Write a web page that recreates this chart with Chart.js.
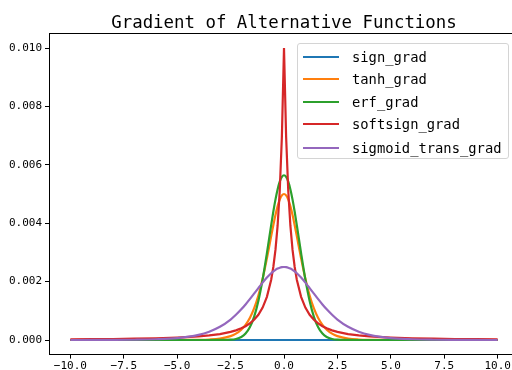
<!DOCTYPE html>
<html>
<head>
<meta charset="utf-8">
<script src="https://cdn.jsdelivr.net/npm/chart.js@4/dist/chart.umd.min.js"></script>
<style>
body { margin: 0; width: 512px; height: 370px; overflow: hidden; background: #fff; position: relative; font-family: "DejaVu Sans Mono", monospace; }
#grafica { position: absolute; left: 0; top: 0; }
#titulo { position: absolute; left: 49px; width: 470px; top: 12px; text-align: center; font-size: 17.4px; color: #000; white-space: pre; }
#leyenda { position: absolute; left: 297px; top: 43px; width: 212px; height: 116px; box-sizing: border-box; border: 1px solid #d4d4d4; border-radius: 3px; background: rgba(255,255,255,0.8); font-size: 13.8px; color: #000; }
.fila { position: absolute; left: 0; height: 20px; line-height: 20px; }
.fila .linea { position: absolute; left: 5px; top: 9px; width: 36px; height: 2px; }
.fila .texto { position: absolute; left: 54px; top: 0; white-space: pre; }
</style>
</head>
<body>
<canvas id="grafica" width="520" height="370"></canvas>
<div id="titulo">Gradient of Alternative Functions</div>
<div id="leyenda"></div>
<script>
// Valores
const xs = [-10,-9,-8,-7,-6,-5,-4,-3.5,-3,-2.5,-2.25,-2,-1.8,-1.6,-1.4,-1.2,-1,-0.8,-0.6,-0.5,-0.4,-0.3,-0.2,-0.1,
  0,
  0.1,0.2,0.3,0.4,0.5,0.6,0.8,1,1.2,1.4,1.6,1.8,2,2.25,2.5,3,3.5,4,5,6,7,8,9,10];

const nombres = ["sign_grad", "tanh_grad", "erf_grad", "softsign_grad", "sigmoid_trans_grad"];
const colores = ["#1f77b4", "#ff7f0e", "#2ca02c", "#d62728", "#9467bd"];

const signGrad = [0,0,0,0,0,0,0,0,0,0,0,0,0,0,0,0,0,0,0,0,0,0,0,0,
  0,
  0,0,0,0,0,0,0,0,0,0,0,0,0,0,0,0,0,0,0,0,0,0,0,0];

const tanhGrad = [0,0,0,0,0,0.000001,0.000007,0.000018,0.000049,0.000133,0.000217,0.000353,0.000518,0.000753,0.001081,0.001525,0.0021,0.002795,0.003558,0.003932,0.004278,0.004576,0.004805,0.00495,
  0.005,
  0.00495,0.004805,0.004576,0.004278,0.003932,0.003558,0.002795,0.0021,0.001525,0.001081,0.000753,0.000518,0.000353,0.000217,0.000133,0.000049,0.000018,0.000007,0.000001,0,0,0,0,0];

const erfGrad = [0,0,0,0,0,0,0,0,0.000001,0.000011,0.000036,0.000103,0.000221,0.000436,0.000795,0.001337,0.002076,0.002975,0.003936,0.004394,0.004808,0.005156,0.005421,0.005586,
  0.005642,
  0.005586,0.005421,0.005156,0.004808,0.004394,0.003936,0.002975,0.002076,0.001337,0.000795,0.000436,0.000221,0.000103,0.000036,0.000011,0.000001,0,0,0,0,0,0,0,0];

const softsignGrad = [0.000023,0.000028,0.000035,0.000044,0.000059,0.000083,0.000123,0.000156,0.000204,0.000278,0.000331,0.0004,0.000473,0.000567,0.000693,0.000865,0.001111,0.001479,0.002066,0.0025,0.003086,0.003906,0.005102,0.006944,
  0.01,
  0.006944,0.005102,0.003906,0.003086,0.0025,0.002066,0.001479,0.001111,0.000865,0.000693,0.000567,0.000473,0.0004,0.000331,0.000278,0.000204,0.000156,0.000123,0.000083,0.000059,0.000044,0.000035,0.000028,0.000023];

const sigmoidGrad = [0,0.000001,0.000003,0.000009,0.000025,0.000066,0.000177,0.000285,0.000452,0.000701,0.000863,0.00105,0.001217,0.001398,0.001587,0.001779,0.001966,0.002139,0.002288,0.00235,0.002403,0.002445,0.002475,0.002494,
  0.0025,
  0.002494,0.002475,0.002445,0.002403,0.00235,0.002288,0.002139,0.001966,0.001779,0.001587,0.001398,0.001217,0.00105,0.000863,0.000701,0.000452,0.000285,0.000177,0.000066,0.000025,0.000009,0.000003,0.000001,0];

const xTicks = [-10, -7.5, -5, -2.5, 0, 2.5, 5, 7.5, 10];
const yTicks = [0, 0.002, 0.004, 0.006, 0.008, 0.01];

const series = [signGrad, tanhGrad, erfGrad, softsignGrad, sigmoidGrad];

// Linea superior del marco (como matplotlib)
const bordeSuperior = {
  id: 'bordeSuperior',
  afterDraw(chart) {
    const ctx = chart.ctx;
    const a = chart.chartArea;
    ctx.save();
    ctx.strokeStyle = '#000';
    ctx.lineWidth = 1;
    ctx.beginPath();
    ctx.moveTo(a.left, Math.round(a.top) + 0.5);
    ctx.lineTo(a.right, Math.round(a.top) + 0.5);
    ctx.stroke();
    ctx.restore();
  }
};

let datasets = series.map(function(vals, i) {
  return {
    label: nombres[i],
    data: vals.map(function(v, j) { return { x: xs[j], y: v }; }),
    borderColor: colores[i],
    backgroundColor: colores[i],
    borderWidth: 2.2,
    pointRadius: 0,
    fill: false,
    order: series.length - i,
    cubicInterpolationMode: nombres[i] === "softsign_grad" ? 'default' : 'monotone',
    tension: 0
  };
});

let fuenteTicks = { family: "DejaVu Sans Mono", size: 11 };

new Chart(document.getElementById('grafica').getContext('2d'), {
  type: 'line',
  data: { datasets: datasets },
  options: {
    responsive: false,
    animation: false,
    layout: { padding: { top: 33.4, right: 1, left: 0, bottom: 0 } },
    plugins: { legend: { display: false }, tooltip: { enabled: false }, title: { display: false } },
    scales: {
      x: {
        type: 'linear',
        min: -11,
        max: 11,
        afterFit: function(s) { s.height = 15.4; },
        afterBuildTicks: function(s) { s.ticks = xTicks.map(function(v) { return { value: v }; }); },
        ticks: {
          color: '#000',
          font: fuenteTicks,
          padding: 1,
          maxRotation: 0,
          callback: function(v) { return (v < 0 ? '\u2212' : '') + Math.abs(v).toFixed(1); }
        },
        grid: { drawOnChartArea: false, drawTicks: true, tickLength: 4, color: '#000' },
        border: { display: true, color: '#000', width: 1 }
      },
      y: {
        type: 'linear',
        min: -0.0005,
        max: 0.0105,
        afterFit: function(s) { s.width = 49; },
        afterBuildTicks: function(s) { s.ticks = yTicks.map(function(v) { return { value: v }; }); },
        ticks: {
          color: '#000',
          font: fuenteTicks,
          padding: 3,
          callback: function(v) { return v.toFixed(3); }
        },
        grid: { drawOnChartArea: false, drawTicks: true, tickLength: 4, color: '#000' },
        border: { display: true, color: '#000', width: 1 }
      }
    }
  },
  plugins: [bordeSuperior]
});

// Leyenda en HTML
let leyenda = document.getElementById('leyenda');
let centros = [12.7, 35.3, 58, 80.3, 103.7];
nombres.forEach(function(n, i) {
  let fila = document.createElement('div');
  fila.className = 'fila';
  fila.style.top = (centros[i] - 10) + 'px';
  let linea = document.createElement('span');
  linea.className = 'linea';
  linea.style.background = colores[i];
  let texto = document.createElement('span');
  texto.className = 'texto';
  texto.textContent = n;
  fila.appendChild(linea);
  fila.appendChild(texto);
  leyenda.appendChild(fila);
});
</script>
</body>
</html>
